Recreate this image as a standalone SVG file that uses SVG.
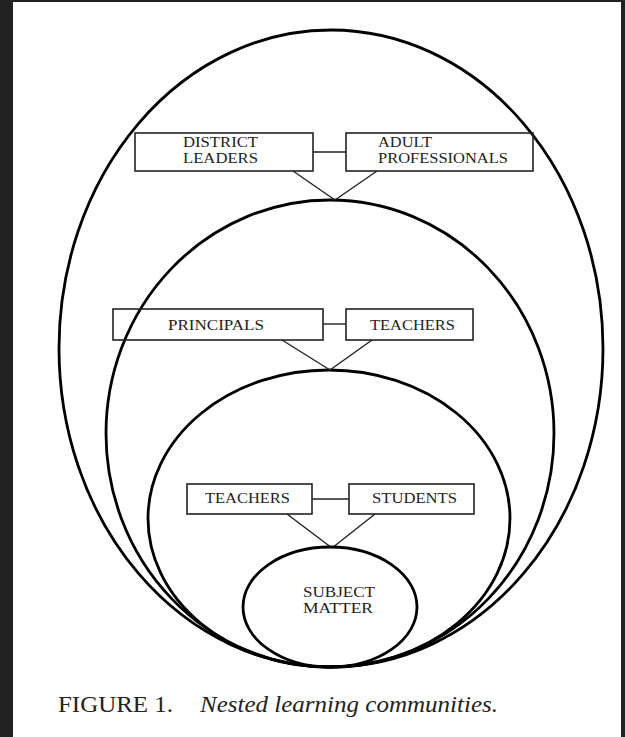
<svg xmlns="http://www.w3.org/2000/svg" width="625" height="737" viewBox="0 0 625 737">
  <style>
    .ring { fill: none; stroke: #000; stroke-width: 2.8; }
    .box { fill: none; stroke: #222; stroke-width: 1.6; }
    .lbl { font-family: "Liberation Serif", "Times New Roman", serif; font-size: 14px; fill: #222; }
    .conn { stroke: #222; stroke-width: 1.4; fill: none; }
    .cap { font-family: "Liberation Serif", "Times New Roman", serif; font-size: 24px; fill: #222; }
  </style>
  <rect x="0" y="0" width="625" height="737" fill="#222"/>
  <rect x="13" y="2" width="608" height="735" fill="#fff"/>

  <g id="rings">
    <ellipse id="ring-district" class="ring" cx="331" cy="348.5" rx="272" ry="318.5"/>
    <ellipse id="ring-school" class="ring" cx="330" cy="433.5" rx="224" ry="233.5"/>
    <ellipse id="ring-classroom" class="ring" cx="329" cy="518.5" rx="181" ry="148.5"/>
  </g>

  <g id="connectors">
    <line class="conn" x1="313" y1="152" x2="346" y2="152"/>
    <line class="conn" x1="293" y1="171" x2="335" y2="200"/>
    <line class="conn" x1="377" y1="171" x2="335" y2="200"/>
    <line class="conn" x1="323" y1="324" x2="346" y2="324"/>
    <line class="conn" x1="282" y1="340" x2="330" y2="370"/>
    <line class="conn" x1="372" y1="340" x2="330" y2="370"/>
    <line class="conn" x1="312" y1="499" x2="349" y2="499"/>
    <line class="conn" x1="287" y1="514" x2="332" y2="548"/>
    <line class="conn" x1="375" y1="514" x2="332" y2="548"/>
  </g>

  <g id="district-leaders">
    <rect class="box" x="135" y="133" width="178" height="38"/>
    <text class="lbl" x="183" y="147" textLength="75" lengthAdjust="spacingAndGlyphs">DISTRICT</text>
    <text class="lbl" x="183" y="163" textLength="75" lengthAdjust="spacingAndGlyphs">LEADERS</text>
  </g>
  <g id="adult-professionals">
    <rect class="box" x="346" y="133" width="187" height="38"/>
    <text class="lbl" x="378" y="147" textLength="54" lengthAdjust="spacingAndGlyphs">ADULT</text>
    <text class="lbl" x="378" y="163" textLength="130" lengthAdjust="spacingAndGlyphs">PROFESSIONALS</text>
  </g>
  <g id="principals">
    <rect class="box" x="113" y="309" width="210" height="31"/>
    <text class="lbl" x="168" y="330" textLength="96" lengthAdjust="spacingAndGlyphs">PRINCIPALS</text>
  </g>
  <g id="teachers-1">
    <rect class="box" x="346" y="309" width="127" height="31"/>
    <text class="lbl" x="370" y="330" textLength="85" lengthAdjust="spacingAndGlyphs">TEACHERS</text>
  </g>
  <g id="teachers-2">
    <rect class="box" x="187" y="484" width="125" height="30"/>
    <text class="lbl" x="205" y="503" textLength="85" lengthAdjust="spacingAndGlyphs">TEACHERS</text>
  </g>
  <g id="students">
    <rect class="box" x="349" y="484" width="125" height="30"/>
    <text class="lbl" x="372" y="503" textLength="85" lengthAdjust="spacingAndGlyphs">STUDENTS</text>
  </g>
  <g id="subject-matter">
    <ellipse class="ring" cx="330" cy="607" rx="87" ry="60"/>
    <text class="lbl" x="303" y="597" textLength="72" lengthAdjust="spacingAndGlyphs">SUBJECT</text>
    <text class="lbl" x="303" y="613" textLength="70" lengthAdjust="spacingAndGlyphs">MATTER</text>
  </g>

  <g id="caption">
    <text class="cap" x="58" y="712" textLength="115" lengthAdjust="spacingAndGlyphs">FIGURE 1.</text>
    <text class="cap" x="200" y="712" font-style="italic" textLength="298" lengthAdjust="spacingAndGlyphs">Nested learning communities.</text>
  </g>
</svg>
